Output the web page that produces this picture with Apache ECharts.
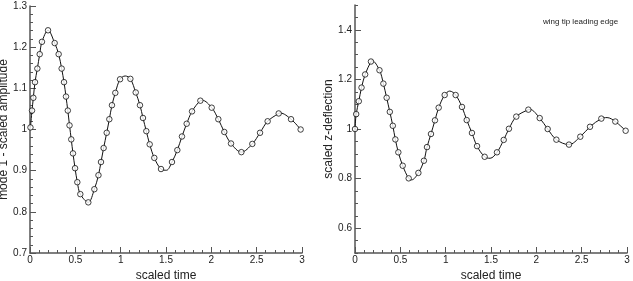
<!DOCTYPE html>
<html><head><meta charset="utf-8">
<script src="https://cdn.jsdelivr.net/npm/echarts@6/dist/echarts.min.js"></script>
<style>html,body{margin:0;padding:0;background:#fff}#c{width:633px;height:281px}</style>
</head><body><div id="c"></div>
<script>
// ---- data ----
const xTicksLabels = ['0','0.5','1','1.5','2','2.5','3'];
const leftYTicks = [0.7,0.8,0.9,1,1.1,1.2,1.3];
const rightYTicks = [0.6,0.8,1,1.2,1.4];

// Left plot: mode 1 - scaled amplitude (markers)
const leftT = [0.005,0.022,0.037,0.055,0.081,0.107,0.132,0.199,0.272,0.316,0.349,0.375,0.397,0.417,0.436,0.455,0.474,0.497,0.522,0.555,0.643,0.710,0.755,0.783,0.812,0.846,0.875,0.904,0.941,0.993,1.107,1.166,1.213,1.246,1.283,1.320,1.371,1.445,1.566,1.625,1.676,1.728,1.787,1.879,2.004,2.077,2.143,2.217,2.331,2.452,2.537,2.621,2.743,2.879,2.985];
const leftV = [1.005,1.046,1.077,1.115,1.148,1.183,1.213,1.241,1.210,1.183,1.148,1.115,1.080,1.046,1.010,0.976,0.942,0.906,0.872,0.843,0.823,0.855,0.889,0.921,0.955,0.992,1.025,1.059,1.089,1.122,1.123,1.090,1.059,1.028,0.996,0.964,0.931,0.904,0.921,0.950,0.983,1.014,1.044,1.070,1.053,1.025,0.994,0.966,0.945,0.965,0.992,1.020,1.039,1.025,1.000];
// curve extrema between markers
const leftExtT = [1.050,1.505,1.900,2.760];
const leftExtV = [1.130,0.901,1.071,1.040];

// Right plot: scaled z-deflection (markers)
const rightT = [0.000,0.013,0.042,0.072,0.112,0.176,0.270,0.313,0.349,0.384,0.417,0.445,0.478,0.526,0.592,0.699,0.760,0.794,0.838,0.882,0.923,0.989,1.110,1.180,1.232,1.290,1.346,1.430,1.566,1.640,1.698,1.779,1.912,2.037,2.125,2.221,2.360,2.485,2.592,2.717,2.871,2.985];
const rightV = [1.000,1.060,1.112,1.167,1.220,1.272,1.237,1.183,1.126,1.069,1.013,0.958,0.906,0.852,0.801,0.823,0.872,0.927,0.980,1.035,1.086,1.137,1.137,1.089,1.036,0.984,0.931,0.888,0.906,0.956,1.001,1.050,1.078,1.044,1.000,0.957,0.937,0.969,1.009,1.042,1.030,0.993];
const rightExtT = [0.190,0.625,1.045,1.490,1.930,2.780];
const rightExtV = [1.275,0.795,1.153,0.882,1.079,1.046];

function pairs(t, v){ return t.map((x,i)=>[x, v[i]]); }
function curve(t, v, et, ev){ return pairs(t,v).concat(pairs(et,ev)).sort((a,b)=>a[0]-b[0]); }

const FONT = 'Liberation Sans, Arial, Helvetica, sans-serif';
const axisColor = '#555';
const txt = '#222';

function xAxis(grid){
  return {
    type:'value', gridIndex:grid, min:0, max:3, interval:0.5,
    name:'scaled time', nameLocation:'middle', nameGap:9,
    nameTextStyle:{fontFamily:FONT, fontSize:12, color:txt},
    axisLine:{show:true, lineStyle:{color:axisColor, width:1.5}},
    axisTick:{show:true, inside:true, length:6, lineStyle:{color:axisColor, width:1}},
    minorTick:{show:true, splitNumber:5, length:3, lineStyle:{color:axisColor, width:1}},
    axisLabel:{fontFamily:FONT, fontSize:10, color:txt, margin:2,
      formatter:(v)=>xTicksLabels[Math.round(v*2)] ?? ''},
    splitLine:{show:false}, minorSplitLine:{show:false}
  };
}

const option = {
  animation:false,
  backgroundColor:'#fff',
  title:{text:'wing tip leading edge', left:538, top:13,
    textStyle:{fontFamily:FONT, fontSize:8, fontWeight:'normal', color:txt}},
  grid:[
    {left:30, right:331, top:6, bottom:28, containLabel:false, outerBoundsMode:'none'},
    {left:355, right:6, top:5, bottom:28, containLabel:false, outerBoundsMode:'none'}
  ],
  xAxis:[xAxis(0), xAxis(1)],
  yAxis:[
    {type:'value', gridIndex:0, min:0.7, max:1.3, interval:0.1,
     name:'mode 1 - scaled amplitude', nameLocation:'middle', nameGap:16,
     nameTextStyle:{fontFamily:FONT, fontSize:12, color:txt},
     axisLine:{show:true, lineStyle:{color:axisColor, width:1.5}},
     axisTick:{show:true, inside:true, length:6, lineStyle:{color:axisColor}},
     minorTick:{show:true, splitNumber:5, length:3, lineStyle:{color:axisColor}},
     axisLabel:{fontFamily:FONT, fontSize:10, color:txt, margin:3,
       formatter:(v)=>{const k=leftYTicks.findIndex(t=>Math.abs(t-v)<1e-6); return k<0?'':String(leftYTicks[k]);}},
     splitLine:{show:false}},
    {type:'value', gridIndex:1, min:0.5, max:1.5, interval:0.05,
     name:'scaled z-deflection', nameLocation:'middle', nameGap:18,
     nameTextStyle:{fontFamily:FONT, fontSize:12, color:txt},
     axisLine:{show:true, lineStyle:{color:axisColor, width:1.5}},
     axisTick:{show:true, inside:true, length:3, lineStyle:{color:axisColor}},
     axisLabel:{fontFamily:FONT, fontSize:10, color:txt, margin:3,
       customValues:rightYTicks, formatter:(v)=>String(Math.round(v*10)/10)},
     splitLine:{show:false}},
    {type:'value', gridIndex:1, min:0.5, max:1.5, interval:0.1, position:'left',
     axisLine:{show:false},
     axisTick:{show:true, inside:true, length:6, customValues:rightYTicks, lineStyle:{color:axisColor}},
     axisLabel:{show:false},
     splitLine:{show:false}}
  ],
  series:[
    {type:'line', xAxisIndex:0, yAxisIndex:0, data:curve(leftT,leftV,leftExtT,leftExtV),
     smooth:0.35, showSymbol:false, symbol:'none', lineStyle:{color:'#111', width:1}, z:2},
    {type:'scatter', xAxisIndex:0, yAxisIndex:0, data:pairs(leftT,leftV),
     symbol:'circle', symbolSize:5.5, itemStyle:{color:'#fff', borderColor:'#111', borderWidth:1}, z:3},
    {type:'line', xAxisIndex:1, yAxisIndex:1, data:curve(rightT,rightV,rightExtT,rightExtV),
     smooth:0.35, showSymbol:false, symbol:'none', lineStyle:{color:'#111', width:1}, z:2},
    {type:'scatter', xAxisIndex:1, yAxisIndex:1, data:pairs(rightT,rightV),
     symbol:'circle', symbolSize:5.5, itemStyle:{color:'#fff', borderColor:'#111', borderWidth:1}, z:3}
  ]
};
const chart = echarts.init(document.getElementById('c'), null, {renderer:'canvas'});
chart.setOption(option);
</script></body></html>
